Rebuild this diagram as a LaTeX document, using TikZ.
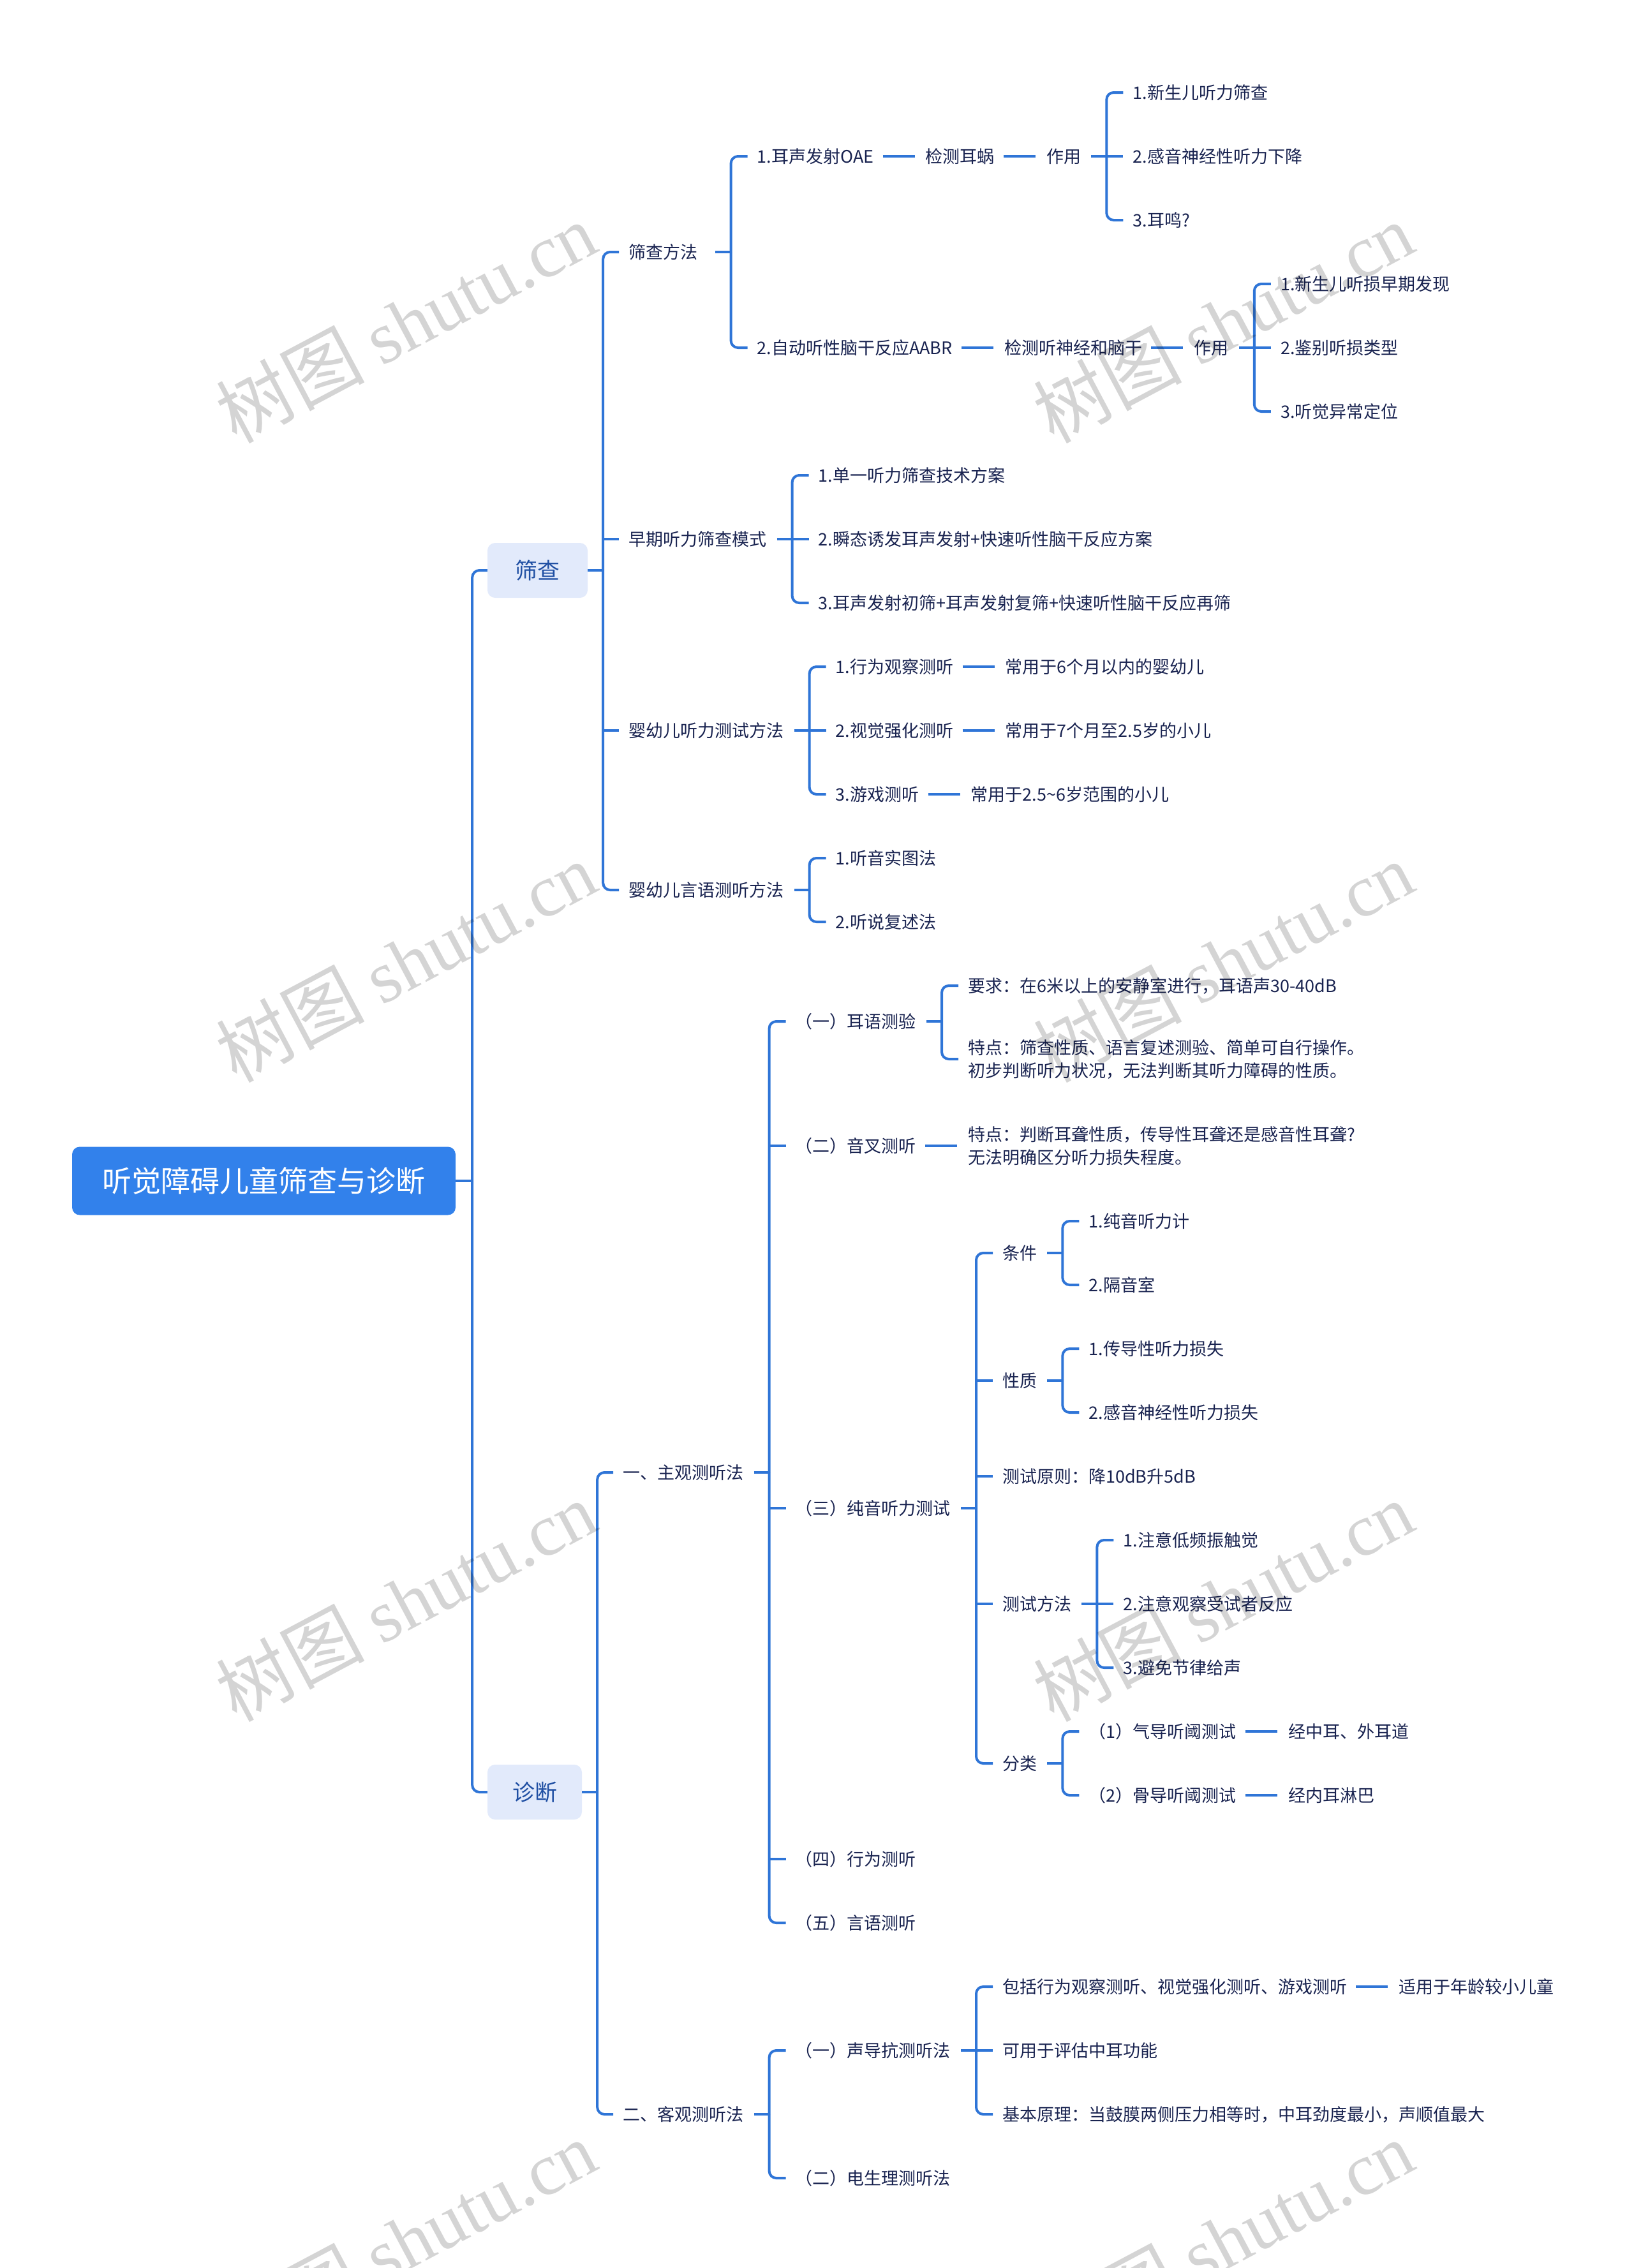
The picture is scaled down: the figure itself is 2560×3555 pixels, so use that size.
\documentclass[tikz,border=0pt]{standalone}
\usepackage{fontspec}
\setmainfont{Noto Sans CJK SC}
\newfontfamily\wmlatin{Liberation Serif}
\definecolor{lnc}{HTML}{2F75D7}
\definecolor{rootc}{HTML}{3281EB}
\definecolor{lonec}{HTML}{E2EAFB}
\definecolor{lonet}{HTML}{1F4FA3}
\definecolor{txtc}{HTML}{192350}
\newcommand{\mmspine}[2][40]{%
  \draw[conn] ([xshift=16pt]#2.east) -- ([xshift=#1pt]#2.east) coordinate (#2s);
  \path ([xshift={#1pt+41pt}]#2.east) coordinate (#2k);}
\newcommand{\mmcorner}[2]{\draw[conn] (#1s) |- ([xshift=-15pt]#2.west);}
\newcommand{\mmstub}[2]{\draw[conn] (#1s |- #2.west) -- ([xshift=-15pt]#2.west);}
\newcommand{\mmchain}[2]{\draw[conn] ([xshift=14pt]#1.east) -- ([xshift=-17pt]#2.west);}
\begin{document}
\begin{tikzpicture}[x=1pt,y=-1pt,
  txt/.style={anchor=west, inner sep=0pt, text=txtc, font=\fontsize{27pt}{36pt}\selectfont, align=left},
  rootbox/.style={fill=rootc, rounded corners=12pt, minimum width=601pt, minimum height=107pt, text=white, font=\fontsize{46pt}{50pt}\selectfont, inner sep=0pt},
  lonebox/.style={fill=lonec, rounded corners=12pt, minimum height=86pt, text=lonet, font=\fontsize{35pt}{40pt}\selectfont, inner sep=0pt},
  conn/.style={draw=lnc, line width=4pt, rounded corners=11pt},
  wm/.style={text=black, text opacity=0.17, rotate=28, inner sep=0pt, font=\fontsize{116pt}{120pt}\selectfont}
]
\useasboundingbox[fill=white] (0,0) rectangle (2560,3555);

% root and level 1
\node[rootbox] (R) at (413.5,1851) {听觉障碍儿童筛查与诊断};
\node[lonebox, minimum width=157pt] (A) at (842.5,894) {筛查};
\node[lonebox, minimum width=148pt] (B) at (838,2809) {诊断};
\draw[conn] (R.east) -- ++(26pt,0) coordinate (Rs);
\draw[conn] (Rs) |- (A.west);
\draw[conn] (Rs) |- (B.west);

% ===== 筛查 =====
\draw[conn] (A.east) -- ++(24pt,0) coordinate (As);
\path (As) ++(40pt,0) coordinate (Ak);
\node[txt] (A1) at (Ak |- 0,395) {筛查方法};
\node[txt] (A2) at (Ak |- 0,845) {早期听力筛查模式};
\node[txt] (A3) at (Ak |- 0,1145) {婴幼儿听力测试方法};
\node[txt] (A4) at (Ak |- 0,1395) {婴幼儿言语测听方法};
\mmcorner{A}{A1} \mmstub{A}{A2} \mmstub{A}{A3} \mmcorner{A}{A4}

% 筛查方法
\draw[conn] ([xshift=27pt]A1.east) -- ([xshift=52pt]A1.east) coordinate (A1s);
\path ([xshift=93pt]A1.east) coordinate (A1k);
\node[txt] (A11) at (A1k |- 0,245) {1.耳声发射OAE};
\node[txt] (A12) at (A1k |- 0,545) {2.自动听性脑干反应AABR};
\mmcorner{A1}{A11} \mmcorner{A1}{A12}
\node[txt] (A11a) at ([xshift=81pt]A11.east) {检测耳蜗};
\node[txt] (A11b) at ([xshift=81pt]A11a.east) {作用};
\mmchain{A11}{A11a} \mmchain{A11a}{A11b}
\mmspine{A11b}
\node[txt] (A111) at (A11bk |- 0,145) {1.新生儿听力筛查};
\node[txt] (A112) at (A11bk |- 0,245) {2.感音神经性听力下降};
\node[txt] (A113) at (A11bk |- 0,345) {3.耳鸣?};
\mmcorner{A11b}{A111} \mmstub{A11b}{A112} \mmcorner{A11b}{A113}
\node[txt] (A12a) at ([xshift=81pt]A12.east) {检测听神经和脑干};
\node[txt] (A12b) at ([xshift=81pt]A12a.east) {作用};
\mmchain{A12}{A12a} \mmchain{A12a}{A12b}
\mmspine{A12b}
\node[txt] (A121) at (A12bk |- 0,445) {1.新生儿听损早期发现};
\node[txt] (A122) at (A12bk |- 0,545) {2.鉴别听损类型};
\node[txt] (A123) at (A12bk |- 0,645) {3.听觉异常定位};
\mmcorner{A12b}{A121} \mmstub{A12b}{A122} \mmcorner{A12b}{A123}

% 早期听力筛查模式
\mmspine{A2}
\node[txt] (A21) at (A2k |- 0,745) {1.单一听力筛查技术方案};
\node[txt] (A22) at (A2k |- 0,845) {2.瞬态诱发耳声发射+快速听性脑干反应方案};
\node[txt] (A23) at (A2k |- 0,945) {3.耳声发射初筛+耳声发射复筛+快速听性脑干反应再筛};
\mmcorner{A2}{A21} \mmstub{A2}{A22} \mmcorner{A2}{A23}

% 婴幼儿听力测试方法
\mmspine{A3}
\node[txt] (A31) at (A3k |- 0,1045) {1.行为观察测听};
\node[txt] (A32) at (A3k |- 0,1145) {2.视觉强化测听};
\node[txt] (A33) at (A3k |- 0,1245) {3.游戏测听};
\mmcorner{A3}{A31} \mmstub{A3}{A32} \mmcorner{A3}{A33}
\node[txt] (A31a) at ([xshift=81pt]A31.east) {常用于6个月以内的婴幼儿};
\node[txt] (A32a) at ([xshift=81pt]A32.east) {常用于7个月至2.5岁的小儿};
\node[txt] (A33a) at ([xshift=81pt]A33.east) {常用于2.5\textasciitilde 6岁范围的小儿};
\mmchain{A31}{A31a} \mmchain{A32}{A32a} \mmchain{A33}{A33a}

% 婴幼儿言语测听方法
\mmspine{A4}
\node[txt] (A41) at (A4k |- 0,1345) {1.听音实图法};
\node[txt] (A42) at (A4k |- 0,1445) {2.听说复述法};
\mmcorner{A4}{A41} \mmcorner{A4}{A42}

% ===== 诊断 =====
\draw[conn] (B.east) -- ++(24pt,0) coordinate (Bs);
\path (Bs) ++(40pt,0) coordinate (Bk);
\node[txt] (B1) at (Bk |- 0,2308) {一、主观测听法};
\node[txt] (B2) at (Bk |- 0,3314) {二、客观测听法};
\mmcorner{B}{B1} \mmcorner{B}{B2}

% 主观测听法
\mmspine{B1}
\node[txt] (B11) at (B1k |- 0,1601) {（一）耳语测验};
\node[txt] (B12) at (B1k |- 0,1796) {（二）音叉测听};
\node[txt] (B13) at (B1k |- 0,2364) {（三）纯音听力测试};
\node[txt] (B14) at (B1k |- 0,2914) {（四）行为测听};
\node[txt] (B15) at (B1k |- 0,3014) {（五）言语测听};
\mmcorner{B1}{B11} \mmstub{B1}{B12} \mmstub{B1}{B13} \mmstub{B1}{B14} \mmcorner{B1}{B15}

% 耳语测验
\mmspine{B11}
\node[txt] (B111) at (B11k |- 0,1545) {要求：在6米以上的安静室进行，耳语声30-40dB};
\node[txt] (B112) at (B11k |- 0,1660) {特点：筛查性质、语言复述测验、简单可自行操作。\\初步判断听力状况，无法判断其听力障碍的性质。};
\mmcorner{B11}{B111} \mmcorner{B11}{B112}

% 音叉测听
\node[txt] (B121) at ([xshift=81pt]B12.east) {特点：判断耳聋性质，传导性耳聋还是感音性耳聋?\\无法明确区分听力损失程度。};
\mmchain{B12}{B121}

% 纯音听力测试
\mmspine{B13}
\node[txt] (B131) at (B13k |- 0,1964) {条件};
\node[txt] (B132) at (B13k |- 0,2164) {性质};
\node[txt] (B133) at (B13k |- 0,2314) {测试原则：降10dB升5dB};
\node[txt] (B134) at (B13k |- 0,2514) {测试方法};
\node[txt] (B135) at (B13k |- 0,2764) {分类};
\mmcorner{B13}{B131} \mmstub{B13}{B132} \mmstub{B13}{B133} \mmstub{B13}{B134} \mmcorner{B13}{B135}

\mmspine{B131}
\node[txt] (B1311) at (B131k |- 0,1914) {1.纯音听力计};
\node[txt] (B1312) at (B131k |- 0,2014) {2.隔音室};
\mmcorner{B131}{B1311} \mmcorner{B131}{B1312}

\mmspine{B132}
\node[txt] (B1321) at (B132k |- 0,2114) {1.传导性听力损失};
\node[txt] (B1322) at (B132k |- 0,2214) {2.感音神经性听力损失};
\mmcorner{B132}{B1321} \mmcorner{B132}{B1322}

\mmspine{B134}
\node[txt] (B1341) at (B134k |- 0,2414) {1.注意低频振触觉};
\node[txt] (B1342) at (B134k |- 0,2514) {2.注意观察受试者反应};
\node[txt] (B1343) at (B134k |- 0,2614) {3.避免节律给声};
\mmcorner{B134}{B1341} \mmstub{B134}{B1342} \mmcorner{B134}{B1343}

\mmspine{B135}
\node[txt] (B1351) at (B135k |- 0,2714) {（1）气导听阈测试};
\node[txt] (B1352) at (B135k |- 0,2814) {（2）骨导听阈测试};
\mmcorner{B135}{B1351} \mmcorner{B135}{B1352}
\node[txt] (B1351a) at ([xshift=81pt]B1351.east) {经中耳、外耳道};
\node[txt] (B1352a) at ([xshift=81pt]B1352.east) {经内耳淋巴};
\mmchain{B1351}{B1351a} \mmchain{B1352}{B1352a}

% 客观测听法
\mmspine{B2}
\node[txt] (B21) at (B2k |- 0,3214) {（一）声导抗测听法};
\node[txt] (B22) at (B2k |- 0,3414) {（二）电生理测听法};
\mmcorner{B2}{B21} \mmcorner{B2}{B22}

\mmspine{B21}
\node[txt] (B211) at (B21k |- 0,3114) {包括行为观察测听、视觉强化测听、游戏测听};
\node[txt] (B212) at (B21k |- 0,3214) {可用于评估中耳功能};
\node[txt] (B213) at (B21k |- 0,3314) {基本原理：当鼓膜两侧压力相等时，中耳劲度最小，声顺值最大};
\mmcorner{B21}{B211} \mmstub{B21}{B212} \mmcorner{B21}{B213}
\node[txt] (B211a) at ([xshift=81pt]B211.east) {适用于年龄较小儿童};
\mmchain{B211}{B211a}

% watermarks
\foreach \wx in {636,1917}{
  \foreach \wy in {505,1507,2509,3511}{
    \node[wm] (wm-\wx-\wy) at (\wx,\wy) {树图 {\wmlatin shutu.cn}};
  }
}
\end{tikzpicture}
\end{document}
